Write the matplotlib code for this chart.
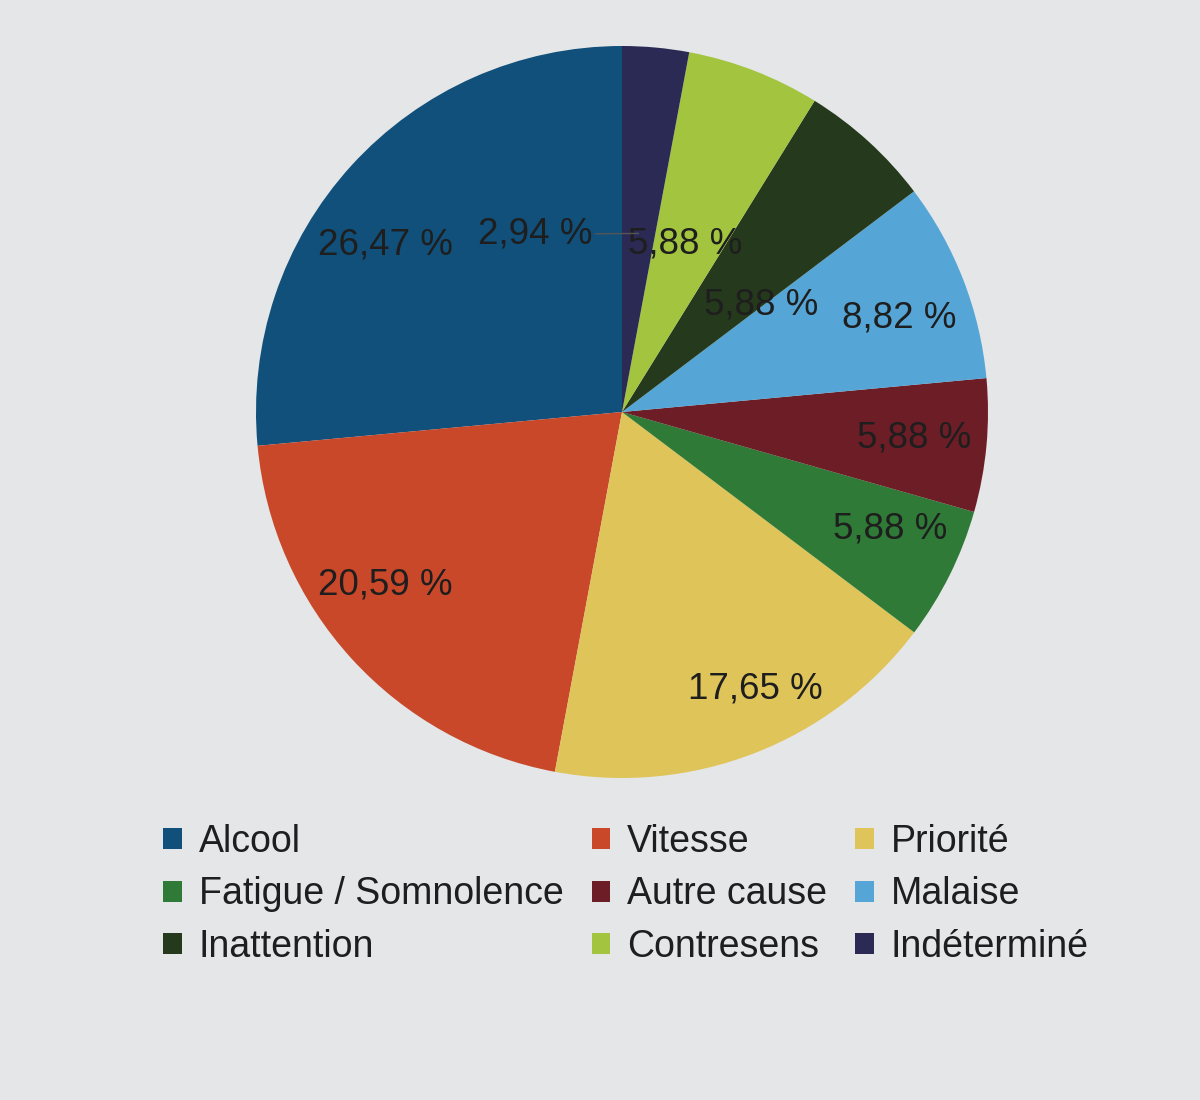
import numpy as np
import matplotlib
matplotlib.use("Agg")
import matplotlib.pyplot as plt
from matplotlib.patches import Patch

plt.rcParams['font.family'] = ['Liberation Sans', 'DejaVu Sans']

# Causes of accidents (share, %), in drawing order (counter-clockwise from 12 o'clock)
categories = ["Alcool", "Vitesse", "Priorité", "Fatigue / Somnolence", "Autre cause",
              "Malaise", "Inattention", "Contresens", "Indéterminé"]
shares = [26.47, 20.59, 17.65, 5.88, 5.88, 8.82, 5.88, 5.88, 2.94]
value_labels = ["26,47 %", "20,59 %", "17,65 %", "5,88 %", "5,88 %",
                "8,82 %", "5,88 %", "5,88 %", "2,94 %"]

colors = ["#10507a", "#c9482a", "#dfc45a", "#2f7a36", "#6c1d26",
          "#55a6d6", "#253a1c", "#a2c43e", "#2b2a55"]

# label placement: (polar angle in degrees, radius as fraction of pie radius)
label_pos = [(144.8, 0.79), (216.1, 0.80), (295.6, 0.84), (336.4, 0.80), (354.9, 0.80),
             (18.7, 0.80), (37.4, 0.48), (69.3, 0.49), (116.0, 0.54)]

bg = "#e4e6e8"
fig = plt.figure(figsize=(12, 11), dpi=100, facecolor=bg)
ax = fig.add_axes([256 / 1200, 1 - 778 / 1100, 732 / 1200, 732 / 1100])
ax.set_facecolor(bg)

wedges, _ = ax.pie(shares, colors=colors, startangle=90, counterclock=True,
                   radius=1.0, wedgeprops=dict(linewidth=0))
ax.set_xlim(-1, 1)
ax.set_ylim(-1, 1)
ax.set_aspect('equal')
ax.axis('off')

text_color = "#1e1e1e"
for i, (w, lab) in enumerate(zip(wedges, value_labels)):
    ang, r = label_pos[i]
    tx, ty = r * np.cos(np.radians(ang)), r * np.sin(np.radians(ang))
    if categories[i] == "Indéterminé":
        mid = np.radians((w.theta1 + w.theta2) / 2)
        ax.annotate(lab, xy=(0.49 * np.cos(mid), 0.49 * np.sin(mid)), xytext=(tx, ty),
                    ha='center', va='center', fontsize=26.5, color=text_color,
                    arrowprops=dict(arrowstyle='-', color="#555555", lw=1.0,
                                    shrinkA=0, shrinkB=0))
    else:
        ax.text(tx, ty, lab, ha='center', va='center', fontsize=26.5, color=text_color)

# legend, filled row by row across three columns
order = [0, 3, 6, 1, 4, 7, 2, 5, 8]
handles = [Patch(facecolor=colors[i], edgecolor='none') for i in order]
labels = [categories[i] for i in order]
fig.legend(handles, labels, ncol=3, loc='upper left',
           bbox_to_anchor=(163 / 1200, 1 - 824 / 1100), frameon=False,
           fontsize=27, handlelength=0.5, handleheight=0.5, handletextpad=0.45,
           columnspacing=0.75, labelspacing=0.44, borderpad=0, borderaxespad=0,
           labelcolor="#1e1e1e")

fig.savefig("out.png", dpi=100, facecolor=bg)
